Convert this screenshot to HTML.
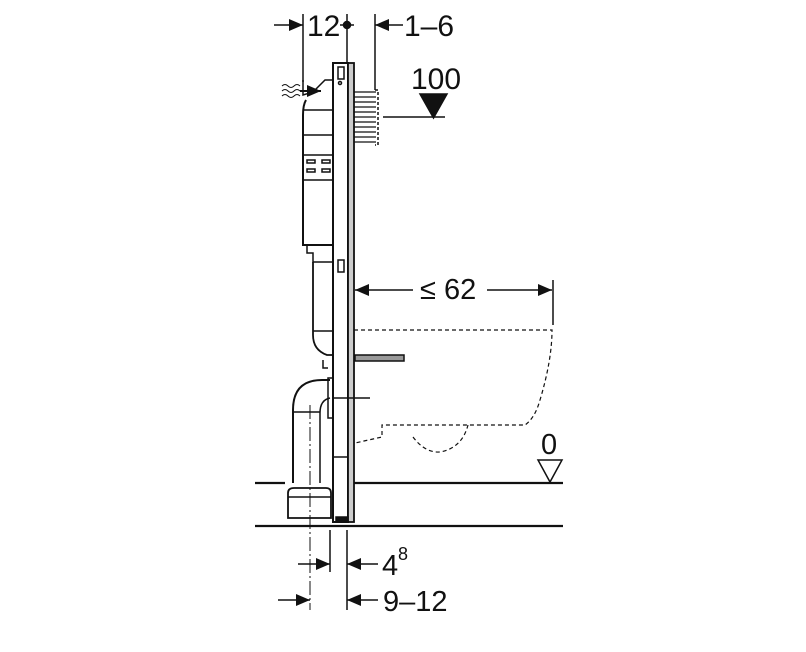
<!DOCTYPE html>
<html><head><meta charset="utf-8"><style>
html,body{margin:0;padding:0;background:#fff}
svg{display:block}
text{font-family:"Liberation Sans",sans-serif;fill:#111}
</style></head><body>
<svg width="806" height="652" viewBox="0 0 806 652" xmlns="http://www.w3.org/2000/svg">
<defs>
<marker id="ar" viewBox="0 0 14 12" refX="14" refY="6" markerWidth="14" markerHeight="12" markerUnits="userSpaceOnUse" orient="auto"><path d="M0,0 L14,6 L0,12z" fill="#111"/></marker>
</defs>
<g stroke="#111" stroke-width="1.5" fill="none">
<line x1="255" y1="483" x2="285" y2="483" stroke-width="2.2"/>
<line x1="354" y1="483" x2="563" y2="483" stroke-width="2.2"/>
<line x1="255" y1="526" x2="563" y2="526" stroke-width="2.2"/>
<rect x="333" y="63" width="15" height="459" fill="#fff" stroke-width="2"/>
<rect x="348" y="63" width="6" height="459" fill="#ccc" stroke-width="1.8"/>
<line x1="333" y1="457" x2="348" y2="457"/>
<rect x="338" y="67" width="6" height="12" />
<circle cx="340" cy="83" r="1.5"/>
<rect x="338" y="260" width="6" height="12"/>
<rect x="336" y="517" width="12" height="5" fill="#111"/>
<path d="M303,80 V95 L313,92 L325,80 H333" />
<path d="M306,100 Q303,105 303,115 V245 H333" stroke-width="2"/>
<line x1="303" y1="110" x2="333" y2="110"/>
<line x1="303" y1="135" x2="333" y2="135"/>
<line x1="303" y1="155" x2="333" y2="155"/>
<line x1="303" y1="180" x2="333" y2="180"/>
<rect x="307" y="160" width="8" height="3"/><rect x="322" y="160" width="8" height="3"/>
<rect x="307" y="169" width="8" height="3"/><rect x="322" y="169" width="8" height="3"/>
<path d="M307,245 V253 H313 V262 H333"/>
<path d="M313,262 V335 Q313,350 327,355 H333" stroke-width="1.8"/>
<line x1="313" y1="331" x2="333" y2="331"/>
<path d="M323,360 V368 H328" />
<path d="M293,483 V410 Q293,380 322,380 H330" stroke-width="2"/>
<path d="M320,483 V413 Q320,400 330,398"/>
<line x1="293" y1="412" x2="320" y2="412"/>
<rect x="328" y="378" width="5" height="40"/>
<line x1="333" y1="398" x2="370" y2="398"/>
<path d="M288,518 V493 Q288,488 294,488 H326 Q331,488 331,493 V518 Z" stroke-width="1.8"/>
<line x1="288" y1="497" x2="331" y2="497"/>
<line x1="310" y1="405" x2="310" y2="610" stroke-dasharray="14,3,2,3" stroke-width="1"/>
<g stroke-width="1.3">
<line x1="354" y1="92" x2="376" y2="92"/><line x1="354" y1="97" x2="376" y2="97"/>
<line x1="354" y1="102" x2="376" y2="102"/><line x1="354" y1="107" x2="376" y2="107"/>
<line x1="354" y1="112" x2="376" y2="112"/><line x1="354" y1="117" x2="376" y2="117"/>
<line x1="354" y1="122" x2="376" y2="122"/><line x1="354" y1="127" x2="376" y2="127"/>
<line x1="354" y1="132" x2="376" y2="132"/><line x1="354" y1="137" x2="376" y2="137"/>
<line x1="354" y1="142" x2="376" y2="142"/>
</g>
<path d="M375,90 H378 V145 H375" stroke-dasharray="3,2"/>
<rect x="355" y="355" width="49" height="6" fill="#999"/>
<path d="M354,330 H552 Q552,360 540,400 Q535,418 525,425 H382 V437 L355,443 M413,437 Q425,453 440,452 Q462,448 468,425" stroke-dasharray="4,3" stroke-width="1.2"/>
<line x1="303" y1="14" x2="303" y2="82"/>
<line x1="274" y1="25" x2="303" y2="25" marker-end="url(#ar)"/>
<line x1="347" y1="14" x2="347" y2="63"/>
<line x1="340" y1="25" x2="354" y2="25"/>
<circle cx="347" cy="25" r="3.5" fill="#111"/>
<line x1="375" y1="14" x2="375" y2="90"/>
<line x1="403" y1="25" x2="375" y2="25" marker-end="url(#ar)"/>
<path d="M282,86 q3,-3 6,0 t6,0 t6,0 M282,91 q3,-3 6,0 t6,0 t6,0 M282,96 q3,-3 6,0 t6,0 t6,0" stroke-width="1"/>
<line x1="300" y1="91" x2="321" y2="91" marker-end="url(#ar)" stroke-width="2"/>
<line x1="383" y1="117" x2="445" y2="117"/>
<path d="M420,94 H447 L433.5,118 Z" fill="#111"/>
<line x1="553" y1="280" x2="553" y2="325"/>
<line x1="413" y1="290" x2="355" y2="290" marker-end="url(#ar)"/>
<line x1="487" y1="290" x2="552" y2="290" marker-end="url(#ar)"/>
<path d="M538,460 H562 L550,482 Z" fill="#fff"/>
<line x1="330" y1="530" x2="330" y2="572"/>
<line x1="347" y1="530" x2="347" y2="610"/>
<line x1="298" y1="564" x2="330" y2="564" marker-end="url(#ar)"/>
<line x1="378" y1="564" x2="347" y2="564" marker-end="url(#ar)"/>
<line x1="278" y1="600" x2="310" y2="600" marker-end="url(#ar)"/>
<line x1="378" y1="600" x2="347" y2="600" marker-end="url(#ar)"/>
</g>
<text x="307" y="36" font-size="30">12</text>
<text x="404" y="36" font-size="30">1–6</text>
<text x="411" y="89" font-size="30">100</text>
<text x="420" y="299" font-size="29">≤ 62</text>
<text x="541" y="454" font-size="29">0</text>
<text x="382" y="575" font-size="29">4</text>
<text x="398" y="560" font-size="18">8</text>
<text x="383" y="611" font-size="29">9–12</text>
</svg>
</body></html>
